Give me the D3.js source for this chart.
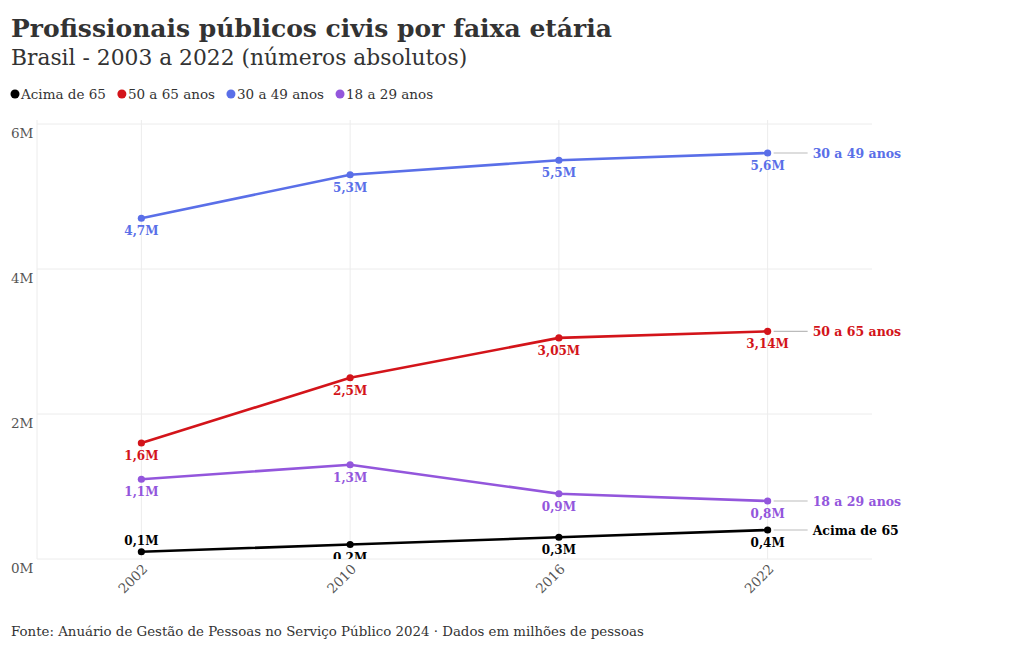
<!DOCTYPE html>
<html><head><meta charset="utf-8">
<script src="https://cdn.jsdelivr.net/npm/d3@7"></script>
<style>
body{margin:0;background:#fff;}
svg{font-family:"DejaVu Serif",serif;}
</style></head>
<body>
<svg id="c" width="1020" height="650"></svg>
<script>
const years = ["2002","2010","2016","2022"];
const seriesNames = ["Acima de 65","50 a 65 anos","30 a 49 anos","18 a 29 anos"];
const seriesColors = ["#000000","#d3141a","#5a6fe8","#9356dc"];
const acima65 = [0.1,0.2,0.3,0.4];
const de50a65 = [1.6,2.5,3.05,3.14];
const de30a49 = [4.7,5.3,5.5,5.6];
const de18a29 = [1.1,1.3,0.9,0.8];
const valueLabels = [
  ["0,1M","0,2M","0,3M","0,4M"],
  ["1,6M","2,5M","3,05M","3,14M"],
  ["4,7M","5,3M","5,5M","5,6M"],
  ["1,1M","1,3M","0,9M","0,8M"]
];
const yTicks = [0,2,4,6];
const allValues = [acima65,de50a65,de30a49,de18a29];

const svg = d3.select("#c");
const pL = 37, pR = 872, pT = 124, pB = 559, gridTop = 120;
const x = d3.scaleBand().domain(years).range([pL,pR]);
const y = d3.scaleLinear().domain([0,6]).range([pB,pT]);
const cx = d => x(d) + x.bandwidth()/2;

// title
svg.append("text").attr("x",11).attr("y",37).attr("fill","#333").attr("font-size",25).attr("font-weight","bold")
  .text("Profissionais públicos civis por faixa etária");
svg.append("text").attr("x",11).attr("y",65).attr("fill","#333").attr("font-size",21.8)
  .text("Brasil - 2003 a 2022 (números absolutos)");

// legend
let lx = 15;
const leg = svg.append("g");
seriesNames.forEach((n,i)=>{
  leg.append("circle").attr("cx",lx).attr("cy",94).attr("r",4.5).attr("fill",seriesColors[i]);
  const t = leg.append("text").attr("x",lx+6).attr("y",99).attr("font-size",13.5).attr("fill","#333").text(n);
  lx += t.node().getComputedTextLength() + 22;
});

// gridlines
const g = svg.append("g");
g.selectAll(".hg").data(yTicks).join("line")
  .attr("x1",pL).attr("x2",pR).attr("y1",d=>y(d)).attr("y2",d=>y(d))
  .attr("stroke","#ececec").attr("stroke-width",1);
g.selectAll(".vg").data(years).join("line")
  .attr("x1",d=>cx(d)).attr("x2",d=>cx(d)).attr("y1",gridTop).attr("y2",pB)
  .attr("stroke","#ececec").attr("stroke-width",1);
g.append("line").attr("x1",pL).attr("x2",pL).attr("y1",gridTop).attr("y2",pB).attr("stroke","#ececec");

// y labels
svg.selectAll(".yl").data(yTicks).join("text")
  .attr("x",11).attr("y",d=>y(d)+14).attr("font-size",13.5).attr("fill","#555")
  .text(d=>d+"M");

// x labels
svg.selectAll(".xl").data(years).join("text")
  .attr("transform",d=>`translate(${cx(d)+7},${pB+11}) rotate(-45)`)
  .attr("text-anchor","end").attr("font-size",13.5).attr("fill","#555")
  .text(d=>d);

// clip
svg.append("clipPath").attr("id","clip").append("rect")
  .attr("x",0).attr("y",pT-24).attr("width",1020).attr("height",pB-pT+24);

const plot = svg.append("g").attr("clip-path","url(#clip)");
const line = d3.line().x((d,i)=>cx(years[i])).y(d=>y(d));

allValues.forEach((vals,si)=>{
  const col = seriesColors[si];
  plot.append("path").datum(vals).attr("d",line).attr("fill","none")
    .attr("stroke",col).attr("stroke-width",2.6).attr("stroke-linejoin","round");
  plot.selectAll(".p"+si).data(vals).join("circle")
    .attr("cx",(d,i)=>cx(years[i])).attr("cy",d=>y(d)).attr("r",3.6).attr("fill",col);
  plot.selectAll(".v"+si).data(vals).join("text")
    .attr("x",(d,i)=>cx(years[i])).attr("y",(d,i)=> (si===0 && i===0) ? y(d)-7 : y(d)+17)
    .attr("text-anchor","middle").attr("font-size",12).attr("font-weight","bold").attr("fill",col)
    .text((d,i)=>valueLabels[si][i]);
  // end labels
  const last = vals[vals.length-1];
  svg.append("line").attr("x1",cx(years[3])+6).attr("x2",cx(years[3])+40)
    .attr("y1",y(last)).attr("y2",y(last)).attr("stroke","#bbb").attr("stroke-width",1.2);
  svg.append("text").attr("x",cx(years[3])+45).attr("y",y(last)+5)
    .attr("font-size",12.5).attr("font-weight","bold").attr("fill",col).text(seriesNames[si]);
});

// footer
svg.append("text").attr("x",11).attr("y",636).attr("font-size",13.35).attr("fill","#333")
  .text("Fonte: Anuário de Gestão de Pessoas no Serviço Público 2024 · Dados em milhões de pessoas");
</script>
</body></html>
